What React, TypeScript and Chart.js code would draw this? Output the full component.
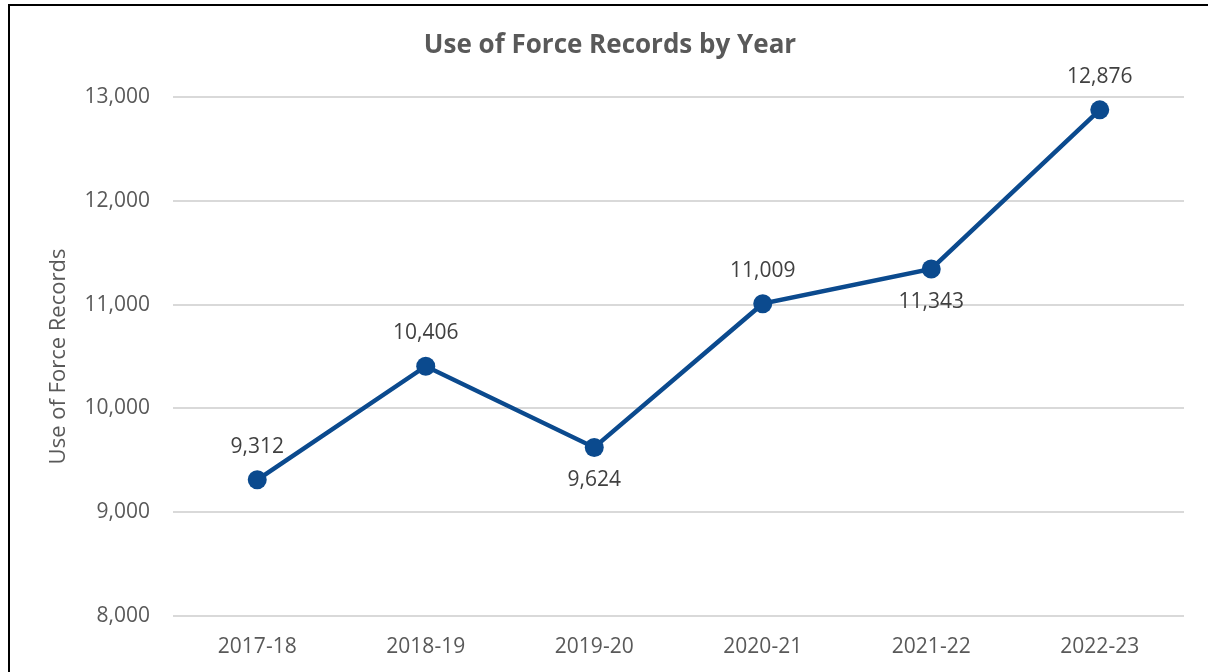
import React, { useEffect, useRef } from "react";
import { Chart, registerables } from "chart.js";

Chart.register(...registerables);

const categories = ["2017-18", "2018-19", "2019-20", "2020-21", "2021-22", "2022-23"];
const records = [9312, 10406, 9624, 11009, 11343, 12876];
const labelBelow = [false, false, true, false, true, false];
const yTicks = [8000, 9000, 10000, 11000, 12000, 13000];

const FONT = "'Open Sans', 'Liberation Sans', sans-serif";
const LINE_COLOR = "#0B4A8E";

const fmt = (v: number) => v.toLocaleString("en-US");

const frame = {
  id: "frame",
  afterDraw(chart: any) {
    const ctx = chart.ctx;
    ctx.save();
    ctx.strokeStyle = "#000";
    ctx.lineWidth = 2;
    ctx.beginPath();
    ctx.moveTo(9, 672);
    ctx.lineTo(9, 5);
    ctx.lineTo(1208, 5);
    ctx.stroke();
    ctx.restore();
  },
};

const pointLabels = {
  id: "pointLabels",
  afterDatasetsDraw(chart: any) {
    const ctx = chart.ctx;
    const meta = chart.getDatasetMeta(0);
    ctx.save();
    ctx.font = `21px ${FONT}`;
    ctx.fillStyle = "#404040";
    ctx.textAlign = "center";
    ctx.textBaseline = "middle";
    meta.data.forEach((pt: any, i: number) => {
      const dy = labelBelow[i] ? 33 : -33;
      ctx.fillText(fmt(records[i]), pt.x, pt.y + dy);
    });
    ctx.restore();
  },
};

export default function App() {
  const ref = useRef<HTMLCanvasElement | null>(null);

  useEffect(() => {
    document.body.style.margin = "0";
    const canvas = ref.current;
    if (!canvas) return;
    const chart = new Chart(canvas, {
      type: "line",
      data: {
        labels: categories,
        datasets: [
          {
            data: records,
            borderColor: LINE_COLOR,
            backgroundColor: LINE_COLOR,
            borderWidth: 4.5,
            pointRadius: 9.5,
            pointHoverRadius: 9.5,
            pointBackgroundColor: LINE_COLOR,
            pointBorderWidth: 0,
            tension: 0,
          },
        ],
      },
      options: {
        responsive: false,
        animation: false,
        events: [],
        layout: { padding: { left: 36, right: 24, top: 0, bottom: 0 } },
        plugins: {
          legend: { display: false },
          tooltip: { enabled: false },
          title: {
            display: true,
            text: "Use of Force Records by Year",
            color: "#595959",
            font: { family: FONT, size: 26, weight: "bold", lineHeight: 1.2 },
            padding: { top: 30, bottom: 35.8 },
          },
        },
        scales: {
          x: {
            offset: true,
            grid: { display: false, drawTicks: false },
            border: { display: false },
            ticks: {
              color: "#595959",
              font: { family: FONT, size: 21 },
              padding: 18,
              maxRotation: 0,
            },
            afterFit: (s: any) => {
              s.height = 56;
            },
          },
          y: {
            min: yTicks[0],
            max: yTicks[yTicks.length - 1],
            afterBuildTicks: (s: any) => {
              s.ticks = yTicks.map((v) => ({ value: v }));
            },
            grid: { color: "#d9d9d9", lineWidth: 2, drawTicks: false },
            border: { display: false },
            ticks: {
              color: "#595959",
              font: { family: FONT, size: 21 },
              padding: 23,
              callback: (v: any) => fmt(Number(v)),
            },
            title: {
              display: true,
              text: "Use of Force Records",
              color: "#595959",
              font: { family: FONT, size: 22, lineHeight: 1.2 },
              padding: { top: 10, bottom: 0 },
            },
            afterFit: (s: any) => {
              s.width = 137;
            },
          },
        },
      },
      plugins: [pointLabels, frame],
    });
    return () => chart.destroy();
  }, []);

  return (
    <div style={{ width: 1208, height: 672, background: "#fff" }}>
      <canvas ref={ref} width={1208} height={672} style={{ display: "block" }} />
    </div>
  );
}
